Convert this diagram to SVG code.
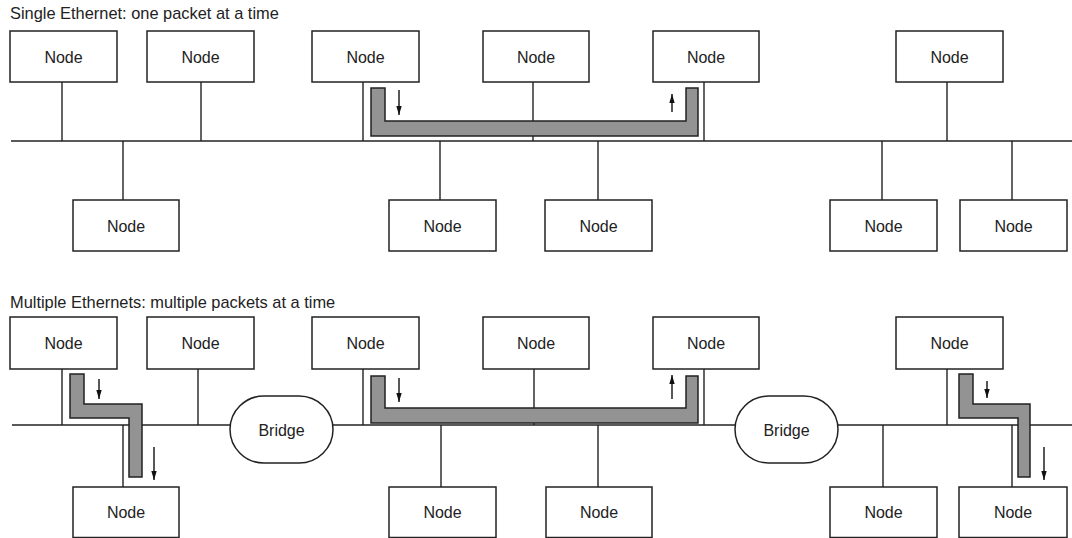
<svg xmlns="http://www.w3.org/2000/svg" width="1072" height="538" viewBox="0 0 1072 538">
<style>
.node rect{fill:#fff;stroke:#222;stroke-width:1.5}
.lbl{font-family:"Liberation Sans",Arial,sans-serif;font-size:16px;fill:#222;text-anchor:middle}
.title{font-family:"Liberation Sans",Arial,sans-serif;font-size:16.4px;fill:#222}
.wire{stroke:#222;stroke-width:1.4;fill:none}
.pkt{fill:#939393;stroke:#222;stroke-width:1.5;stroke-linejoin:miter}
.arr{stroke:#111;stroke-width:1.4;fill:none;marker-end:url(#ah)}
</style>
<defs>
<marker id="ah" markerUnits="userSpaceOnUse" markerWidth="9" markerHeight="10" viewBox="0 0 9 10" refX="9" refY="5" orient="auto">
<path d="M0,2.3 L9,5 L0,7.7 Z" fill="#111"/>
</marker>
</defs>
<rect width="1072" height="538" fill="#fff"/>
<text class="title" x="10" y="19">Single Ethernet: one packet at a time</text>
<text class="title" x="10" y="308">Multiple Ethernets: multiple packets at a time</text>

<g id="connectors">
<line class="wire" x1="11" y1="141" x2="1072" y2="141"/>
<line class="wire" x1="62" y1="82" x2="62" y2="141"/>
<line class="wire" x1="201" y1="82" x2="201" y2="141"/>
<line class="wire" x1="363" y1="82" x2="363" y2="141"/>
<line class="wire" x1="533" y1="82" x2="533" y2="141"/>
<line class="wire" x1="704" y1="82" x2="704" y2="141"/>
<line class="wire" x1="947" y1="82" x2="947" y2="141"/>
<line class="wire" x1="123" y1="141" x2="123" y2="200"/>
<line class="wire" x1="440" y1="141" x2="440" y2="200"/>
<line class="wire" x1="598" y1="141" x2="598" y2="200"/>
<line class="wire" x1="882" y1="141" x2="882" y2="200"/>
<line class="wire" x1="1012" y1="141" x2="1012" y2="200"/>
<line class="wire" x1="12" y1="425" x2="1072" y2="425"/>
<line class="wire" x1="62" y1="369" x2="62" y2="425"/>
<line class="wire" x1="198" y1="369" x2="198" y2="425"/>
<line class="wire" x1="363" y1="369" x2="363" y2="425"/>
<line class="wire" x1="534" y1="369" x2="534" y2="425"/>
<line class="wire" x1="704" y1="369" x2="704" y2="425"/>
<line class="wire" x1="947" y1="369" x2="947" y2="425"/>
<line class="wire" x1="123" y1="425" x2="123" y2="487"/>
<line class="wire" x1="441" y1="425" x2="441" y2="487"/>
<line class="wire" x1="598" y1="425" x2="598" y2="487"/>
<line class="wire" x1="883" y1="425" x2="883" y2="487"/>
<line class="wire" x1="1012" y1="425" x2="1012" y2="487"/>
</g>

<g id="packets">
<polygon class="pkt" points="371,88 385,88 385,121 686,121 686,88 698,88 698,136 371,136"/>
<polygon class="pkt" points="371,376 385,376 385,408 686,408 686,376 698,376 698,423 371,423"/>
<polygon class="pkt" points="70,374 84,374 84,404 142,404 142,477 129,477 129,418 70,418"/>
<polygon class="pkt" points="959,374 973,374 973,404 1030,404 1030,477 1018,477 1018,418 959,418"/>
</g>

<g id="arrows">
<line class="arr" x1="399" y1="90" x2="399" y2="115"/>
<line class="arr" x1="672" y1="112" x2="672" y2="94"/>
<line class="arr" x1="399" y1="378" x2="399" y2="402"/>
<line class="arr" x1="672" y1="399" x2="672" y2="375"/>
<line class="arr" x1="99" y1="379" x2="99" y2="399"/>
<line class="arr" x1="154" y1="447" x2="154" y2="480"/>
<line class="arr" x1="987" y1="381" x2="987" y2="398"/>
<line class="arr" x1="1044" y1="447" x2="1044" y2="480"/>
</g>

<g id="n1" class="node"><rect x="10" y="31" width="107" height="51"/><text class="lbl" x="63.5" y="62.5">Node</text></g>
<g id="n2" class="node"><rect x="147" y="31" width="107" height="51"/><text class="lbl" x="200.5" y="62.5">Node</text></g>
<g id="n3" class="node"><rect x="312" y="31" width="107" height="51"/><text class="lbl" x="365.5" y="62.5">Node</text></g>
<g id="n4" class="node"><rect x="483" y="31" width="106" height="51"/><text class="lbl" x="536" y="62.5">Node</text></g>
<g id="n5" class="node"><rect x="653" y="31" width="106" height="51"/><text class="lbl" x="706" y="62.5">Node</text></g>
<g id="n6" class="node"><rect x="896" y="31" width="107" height="51"/><text class="lbl" x="949.5" y="62.5">Node</text></g>
<g id="n7" class="node"><rect x="73" y="200" width="106" height="51"/><text class="lbl" x="126" y="231.5">Node</text></g>
<g id="n8" class="node"><rect x="389" y="200" width="107" height="51"/><text class="lbl" x="442.5" y="231.5">Node</text></g>
<g id="n9" class="node"><rect x="545" y="200" width="107" height="51"/><text class="lbl" x="598.5" y="231.5">Node</text></g>
<g id="n10" class="node"><rect x="830" y="200" width="107" height="51"/><text class="lbl" x="883.5" y="231.5">Node</text></g>
<g id="n11" class="node"><rect x="960" y="200" width="107" height="51"/><text class="lbl" x="1013.5" y="231.5">Node</text></g>

<g id="m1" class="node"><rect x="10" y="317" width="107" height="52"/><text class="lbl" x="63.5" y="349">Node</text></g>
<g id="m2" class="node"><rect x="147" y="317" width="107" height="52"/><text class="lbl" x="200.5" y="349">Node</text></g>
<g id="m3" class="node"><rect x="312" y="317" width="107" height="52"/><text class="lbl" x="365.5" y="349">Node</text></g>
<g id="m4" class="node"><rect x="483" y="317" width="106" height="52"/><text class="lbl" x="536" y="349">Node</text></g>
<g id="m5" class="node"><rect x="653" y="317" width="106" height="52"/><text class="lbl" x="706" y="349">Node</text></g>
<g id="m6" class="node"><rect x="896" y="317" width="107" height="52"/><text class="lbl" x="949.5" y="349">Node</text></g>
<g id="m7" class="node"><rect x="73" y="487" width="106" height="50.5"/><text class="lbl" x="126" y="518">Node</text></g>
<g id="m8" class="node"><rect x="389" y="487" width="107" height="50.5"/><text class="lbl" x="442.5" y="518">Node</text></g>
<g id="m9" class="node"><rect x="546" y="487" width="106" height="50.5"/><text class="lbl" x="599" y="518">Node</text></g>
<g id="m10" class="node"><rect x="830" y="487" width="107" height="50.5"/><text class="lbl" x="883.5" y="518">Node</text></g>
<g id="m11" class="node"><rect x="959" y="487" width="108" height="50.5"/><text class="lbl" x="1013" y="518">Node</text></g>

<g id="bridge1" class="node"><rect x="230" y="396" width="103" height="67" rx="34" ry="33.5"/><text class="lbl" x="281.5" y="435.5">Bridge</text></g>
<g id="bridge2" class="node"><rect x="735" y="396" width="103" height="67" rx="34" ry="33.5"/><text class="lbl" x="786.5" y="435.5">Bridge</text></g>
</svg>
